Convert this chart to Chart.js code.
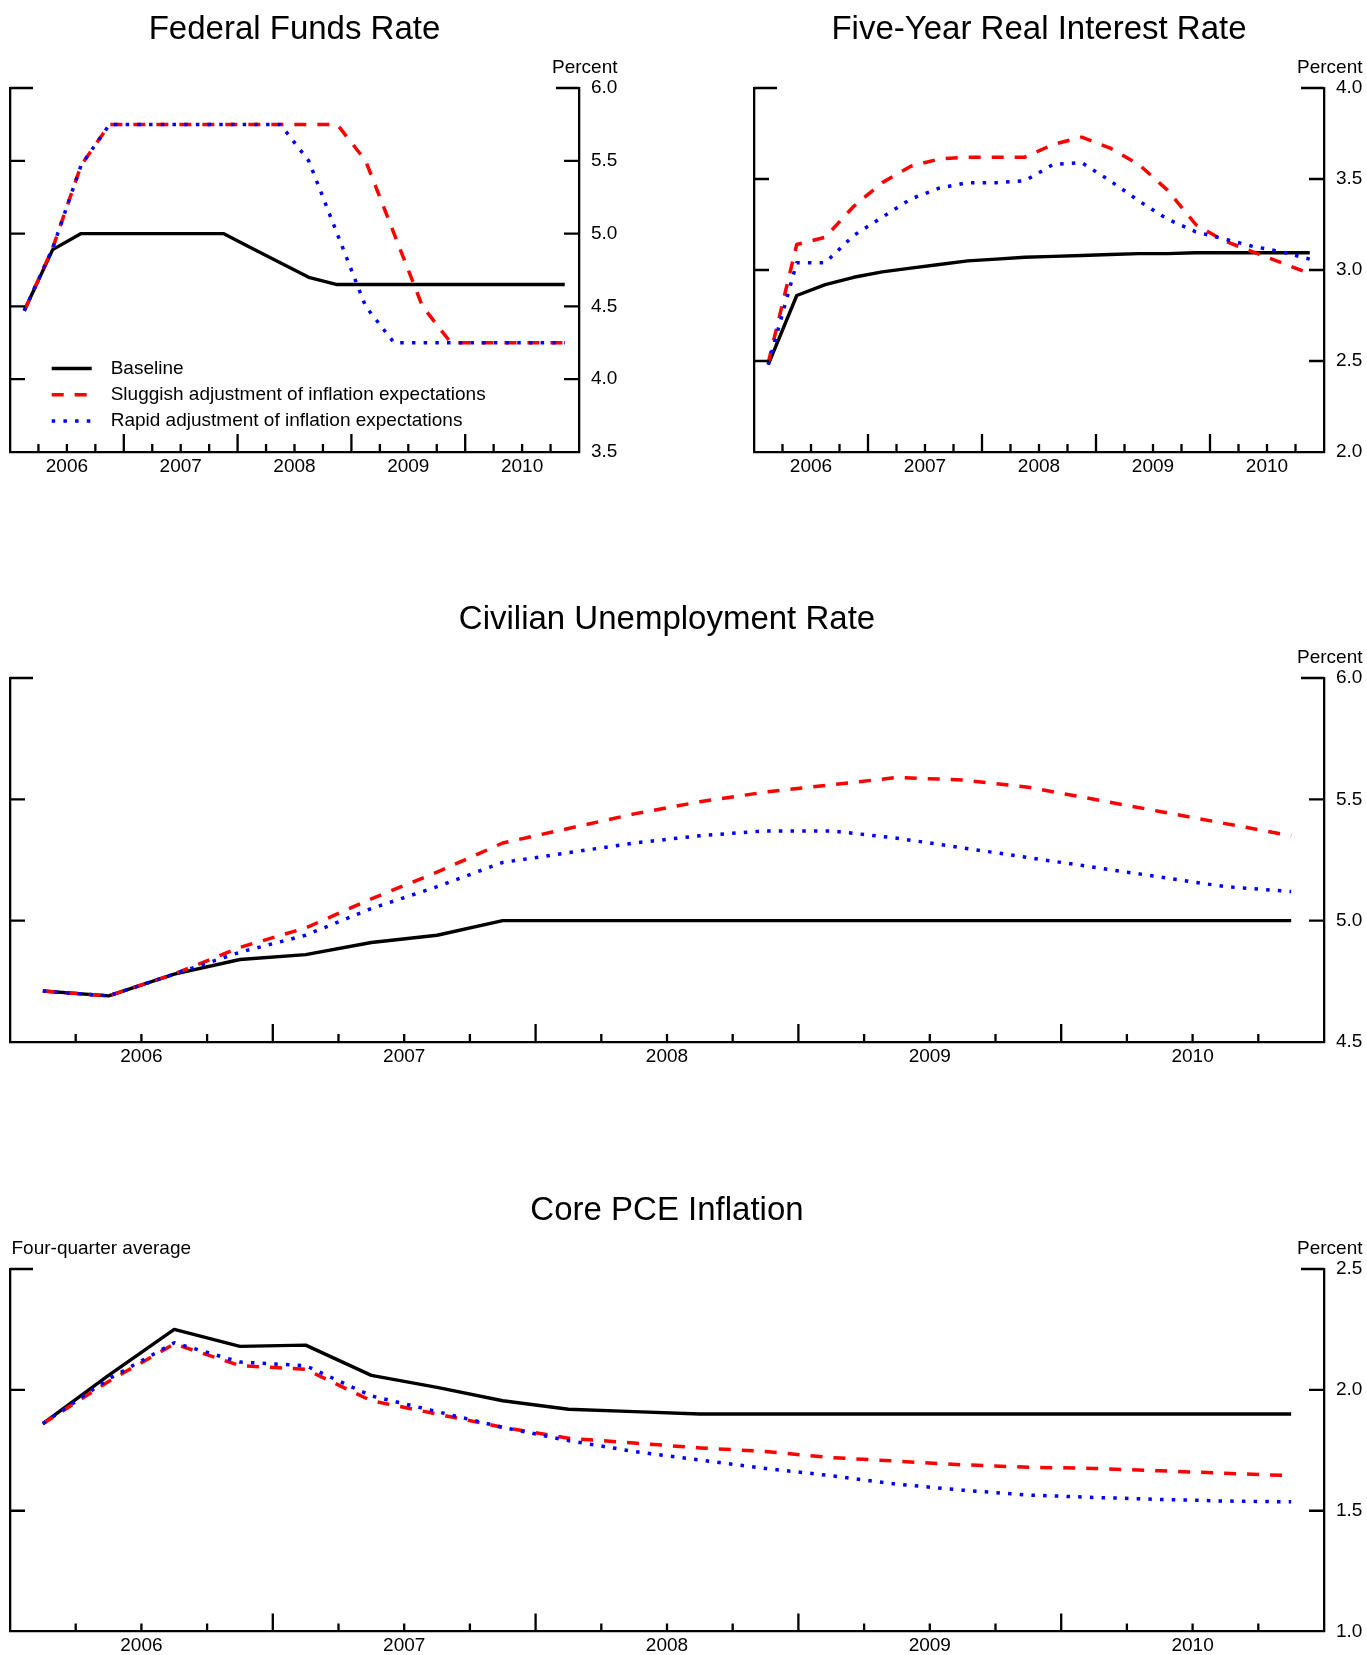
<!DOCTYPE html>
<html>
<head>
<meta charset="utf-8">
<title>Alternative inflation-expectation scenarios</title>
<script src="https://cdn.jsdelivr.net/npm/chart.js@4.4.1/dist/chart.umd.min.js"></script>
<style>
  html, body { margin: 0; padding: 0; background: #fff; }
  body { width: 1367px; height: 1655px; position: relative; overflow: hidden; }
  canvas { position: absolute; }
</style>
</head>
<body>
<canvas id="ffr"></canvas>
<canvas id="real5"></canvas>
<canvas id="unemp"></canvas>
<canvas id="pce"></canvas>
<script>
// quarterly projection horizon
const quarters = [
  '2006Q1', '2006Q2', '2006Q3', '2006Q4',
  '2007Q1', '2007Q2', '2007Q3', '2007Q4',
  '2008Q1', '2008Q2', '2008Q3', '2008Q4',
  '2009Q1', '2009Q2', '2009Q3', '2009Q4',
  '2010Q1', '2010Q2', '2010Q3', '2010Q4'
];
const years = ['2006', '2007', '2008', '2009', '2010'];

const scenarioNames = [
  'Baseline',
  'Sluggish adjustment of inflation expectations',
  'Rapid adjustment of inflation expectations'
];

// Federal funds rate, percent
const ffBaseline = [4.47, 4.89, 5.00, 5.00, 5.00, 5.00, 5.00, 5.00, 4.90, 4.80, 4.70, 4.65, 4.65, 4.65, 4.65, 4.65, 4.65, 4.65, 4.65, 4.65];
const ffSluggish = [4.47, 4.90, 5.47, 5.75, 5.75, 5.75, 5.75, 5.75, 5.75, 5.75, 5.75, 5.75, 5.50, 5.00, 4.50, 4.25, 4.25, 4.25, 4.25, 4.25];
const ffRapid    = [4.47, 4.90, 5.47, 5.75, 5.75, 5.75, 5.75, 5.75, 5.75, 5.75, 5.50, 5.00, 4.50, 4.25, 4.25, 4.25, 4.25, 4.25, 4.25, 4.25];

// Five-year real interest rate, percent
const realBaseline = [2.48, 2.86, 2.92, 2.96, 2.99, 3.01, 3.03, 3.05, 3.06, 3.07, 3.075, 3.08, 3.085, 3.09, 3.09, 3.095, 3.095, 3.095, 3.095, 3.095];
const realSluggish = [2.49, 3.14, 3.18, 3.35, 3.48, 3.57, 3.61, 3.62, 3.62, 3.62, 3.69, 3.73, 3.67, 3.58, 3.44, 3.25, 3.16, 3.10, 3.04, 2.98];
const realRapid    = [2.48, 3.04, 3.04, 3.19, 3.29, 3.39, 3.45, 3.48, 3.48, 3.49, 3.58, 3.59, 3.49, 3.38, 3.28, 3.21, 3.17, 3.13, 3.10, 3.06];

// Civilian unemployment rate, percent
const urBaseline = [4.71, 4.69, 4.78, 4.84, 4.86, 4.91, 4.94, 5.00, 5.00, 5.00, 5.00, 5.00, 5.00, 5.00, 5.00, 5.00, 5.00, 5.00, 5.00, 5.00];
const urSluggish = [4.71, 4.69, 4.78, 4.89, 4.97, 5.09, 5.20, 5.32, 5.38, 5.44, 5.49, 5.53, 5.56, 5.59, 5.58, 5.55, 5.50, 5.45, 5.40, 5.35];
const urRapid    = [4.71, 4.69, 4.78, 4.87, 4.94, 5.05, 5.14, 5.24, 5.28, 5.32, 5.35, 5.37, 5.37, 5.34, 5.30, 5.26, 5.22, 5.18, 5.14, 5.12];

// Core PCE inflation, four-quarter average, percent
const pceBaseline = [1.86, 2.06, 2.25, 2.18, 2.185, 2.06, 2.01, 1.955, 1.92, 1.91, 1.90, 1.90, 1.90, 1.90, 1.90, 1.90, 1.90, 1.90, 1.90, 1.90];
const pceSluggish = [1.86, 2.035, 2.19, 2.10, 2.085, 1.955, 1.90, 1.845, 1.80, 1.78, 1.76, 1.745, 1.72, 1.705, 1.69, 1.68, 1.675, 1.665, 1.655, 1.645];
const pceRapid    = [1.86, 2.045, 2.195, 2.115, 2.10, 1.975, 1.91, 1.845, 1.79, 1.745, 1.71, 1.675, 1.645, 1.61, 1.585, 1.565, 1.555, 1.547, 1.54, 1.537];

const FONT = '"Liberation Sans", Arial, Helvetica, sans-serif';
Chart.defaults.font.family = FONT;
Chart.defaults.color = '#000';

// mid-point of a quarter as a decimal year
function quarterMid(q) {
  return Number(q.slice(0, 4)) + (Number(q.slice(5)) - 0.5) / 4;
}

function series(values) {
  return values.map((v, i) => ({ x: quarterMid(quarters[i]), y: v }));
}

const lineStyles = [
  { borderColor: '#000000', borderWidth: 3.4, borderDash: [], order: 3 },
  { borderColor: '#ff0000', borderWidth: 3.5, borderDash: [12, 11], order: 2 },
  { borderColor: '#0000ff', borderWidth: 3.5, borderDash: [3.5, 8.2], order: 1 }
];

// inward tick marks, panel titles, unit notes and the legend
const framePlugin = {
  id: 'frame',
  afterDraw(chart, args, opts) {
    const { ctx, chartArea: a, scales } = chart;
    const x = scales.x, y = scales.y;
    ctx.save();
    ctx.strokeStyle = '#000';
    ctx.lineWidth = 2.3;
    ctx.beginPath();
    for (let v = x.min + 0.25; v < x.max - 0.01; v += 0.25) {
      const px = x.getPixelForValue(v);
      const len = Math.abs(v - Math.round(v)) < 0.01 ? 18 : 8;
      ctx.moveTo(px, a.bottom);
      ctx.lineTo(px, a.bottom - len);
    }
    y.ticks.forEach(t => {
      if (t.value <= y.min + 1e-9) return;
      const py = y.getPixelForValue(t.value);
      const len = t.value >= y.max - 1e-9 ? 23 : 15;
      ctx.moveTo(a.left, py);
      ctx.lineTo(a.left + len, py);
      ctx.moveTo(a.right, py);
      ctx.lineTo(a.right - len, py);
    });
    ctx.stroke();

    ctx.fillStyle = '#000';
    ctx.textBaseline = 'middle';
    ctx.textAlign = 'center';
    ctx.font = `33px ${FONT}`;
    ctx.fillText(opts.title, (a.left + a.right) / 2, a.top - 58);

    ctx.font = `19px ${FONT}`;
    ctx.textAlign = 'right';
    ctx.fillText('Percent', a.right + 38.5, a.top - 20.5);
    if (opts.leftNote) {
      ctx.textAlign = 'left';
      ctx.fillText(opts.leftNote, a.left + 1.5, a.top - 20.5);
    }

    if (opts.legend) {
      chart.data.datasets.forEach((ds, i) => {
        const ly = a.top + 280.5 + i * 26.2;
        ctx.beginPath();
        ctx.strokeStyle = ds.borderColor;
        ctx.lineWidth = ds.borderWidth;
        ctx.setLineDash(ds.borderDash);
        ctx.moveTo(a.left + 41.7, ly);
        ctx.lineTo(a.left + 81.7, ly);
        ctx.stroke();
        ctx.setLineDash([]);
        ctx.textAlign = 'left';
        ctx.fillText(ds.label, a.left + 100.7, ly);
      });
    }
    ctx.restore();
  }
};

function makePanel(id, box, area, title, yMin, yMax, values, extra) {
  const canvas = document.getElementById(id);
  canvas.width = box.w;
  canvas.height = box.h;
  canvas.style.left = box.x + 'px';
  canvas.style.top = box.y + 'px';
  canvas.style.width = box.w + 'px';
  canvas.style.height = box.h + 'px';

  const rightW = 45, bottomH = 30;
  const axisLine = { display: true, color: '#000', width: 2.3 };
  const noGrid = { display: false, drawTicks: false };

  return new Chart(canvas, {
    type: 'line',
    data: {
      datasets: values.map((vals, i) => ({
        label: scenarioNames[i],
        data: series(vals),
        borderColor: lineStyles[i].borderColor,
        borderWidth: lineStyles[i].borderWidth,
        borderDash: lineStyles[i].borderDash,
        order: lineStyles[i].order,
        pointRadius: 0,
        tension: 0,
        fill: false,
        borderJoinStyle: 'round',
        yAxisID: 'y'
      }))
    },
    options: {
      responsive: false,
      animation: false,
      devicePixelRatio: 1,
      events: [],
      layout: {
        padding: {
          left: area.L - box.x,
          top: area.T - box.y,
          right: box.x + box.w - area.R - rightW,
          bottom: box.y + box.h - area.B - bottomH
        }
      },
      plugins: {
        legend: { display: false },
        tooltip: { enabled: false },
        frame: Object.assign({ title: title }, extra || {})
      },
      scales: {
        x: {
          type: 'linear',
          position: 'bottom',
          min: 2006,
          max: 2011,
          grid: noGrid,
          border: axisLine,
          afterBuildTicks: s => { s.ticks = years.map(yr => ({ value: Number(yr) + 0.5 })); },
          ticks: {
            autoSkip: false,
            maxRotation: 0,
            padding: 3,
            font: { size: 19 },
            callback: (v, i) => years[i]
          },
          afterFit: s => { s.height = bottomH; }
        },
        yl: {
          position: 'left',
          min: yMin,
          max: yMax,
          grid: noGrid,
          border: axisLine,
          ticks: { display: false },
          afterFit: s => { s.width = 0; }
        },
        y: {
          position: 'right',
          min: yMin,
          max: yMax,
          grid: noGrid,
          border: axisLine,
          ticks: {
            stepSize: 0.5,
            padding: 12,
            font: { size: 19 },
            callback: v => v.toFixed(1)
          },
          afterFit: s => { s.width = rightW; }
        }
      }
    },
    plugins: [framePlugin]
  });
}

makePanel('ffr', { x: 0, y: 0, w: 683, h: 490 }, { L: 10, T: 88, R: 579, B: 452 },
  'Federal Funds Rate', 3.5, 6.0, [ffBaseline, ffSluggish, ffRapid], { legend: true });

makePanel('real5', { x: 684, y: 0, w: 683, h: 490 }, { L: 754, T: 88, R: 1324, B: 452 },
  'Five-Year Real Interest Rate', 2.0, 4.0, [realBaseline, realSluggish, realRapid]);

makePanel('unemp', { x: 0, y: 560, w: 1367, h: 530 }, { L: 10, T: 678, R: 1324, B: 1042 },
  'Civilian Unemployment Rate', 4.5, 6.0, [urBaseline, urSluggish, urRapid]);

makePanel('pce', { x: 0, y: 1170, w: 1367, h: 485 }, { L: 10, T: 1269, R: 1324, B: 1633 },
  'Core PCE Inflation', 1.0, 2.5, [pceBaseline, pceSluggish, pceRapid], { leftNote: 'Four-quarter average' });
</script>
</body>
</html>
